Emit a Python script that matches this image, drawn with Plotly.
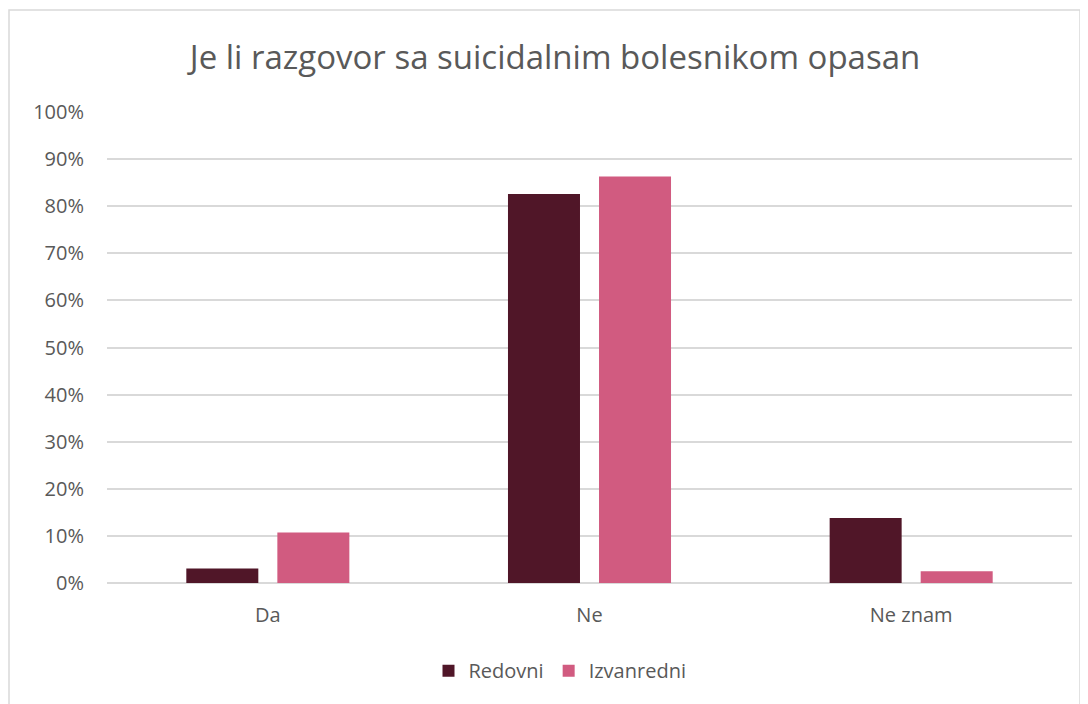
import plotly.graph_objects as go

categories = ["Da", "Ne", "Ne znam"]
redovni = [3.1, 82.6, 13.8]
izvanredni = [10.7, 86.3, 2.5]
series_names = ["Redovni", "Izvanredni"]
y_ticks = [0, 10, 20, 30, 40, 50, 60, 70, 80, 90, 100]
y_tick_labels = [f"{v}%" for v in y_ticks]
title_text = "Je li razgovor sa suicidalnim bolesnikom opasan"

C_RED = "#501628"
C_IZV = "#D15B80"
FONT = "'Open Sans', Lato, sans-serif"
GRAY = "#595959"

# page has an 8px body margin; work in page px and convert
OFF = 8
W, H = 1088 - OFF, 704 - OFF
ML = 107 - OFF
MR = 1088 - 1072
MT = 112 - OFF
MB = H - (583.3 - OFF)
pw = W - ML - MR
ph = H - MT - MB

def px_x(x):
    return (x - OFF - ML) / pw

def px_y(y):
    return (H - MB - (y - OFF)) / ph

fig = go.Figure()
fig.add_trace(go.Bar(x=categories, y=redovni, name=series_names[0],
                     marker=dict(color=C_RED, line=dict(width=0))))
fig.add_trace(go.Bar(x=categories, y=izvanredni, name=series_names[1],
                     marker=dict(color=C_IZV, line=dict(width=0))))

fig.add_shape(type="rect", xref="paper", yref="paper",
              x0=px_x(9), x1=px_x(1080), y0=px_y(730), y1=px_y(10),
              line=dict(color="#D9D9D9", width=1.5), fillcolor="rgba(0,0,0,0)",
              layer="below")

fig.update_layout(
    width=W, height=H,
    margin=dict(l=ML, r=MR, t=MT, b=MB),
    paper_bgcolor="white", plot_bgcolor="white",
    barmode="group", bargap=0.434, bargroupgap=0.209,
    title=dict(text=title_text, x=(555 - OFF) / W, xanchor="center",
               y=1 - (57 - OFF) / H, yanchor="middle",
               font=dict(family=FONT, size=33, color=GRAY)),
    font=dict(family=FONT, color=GRAY),
    legend=dict(orientation="h", x=px_x(560), xanchor="center",
                y=px_y(671), yanchor="middle",
                font=dict(family=FONT, size=20, color=GRAY),
                itemwidth=30, traceorder="normal"),
    xaxis=dict(showgrid=False, showline=False, ticks="",
               tickfont=dict(family=FONT, size=20, color=GRAY),
               ticklabelstandoff=18),
    yaxis=dict(range=[0, 100], tickvals=y_ticks, ticktext=y_tick_labels,
               showgrid=True, gridcolor="#D9D9D9", gridwidth=1.5,
               zeroline=True, zerolinecolor="#D9D9D9", zerolinewidth=1.5,
               showline=False, ticks="",
               tickfont=dict(family=FONT, size=20, color=GRAY),
               ticklabelstandoff=22),
)

fig.write_html("out.html")
